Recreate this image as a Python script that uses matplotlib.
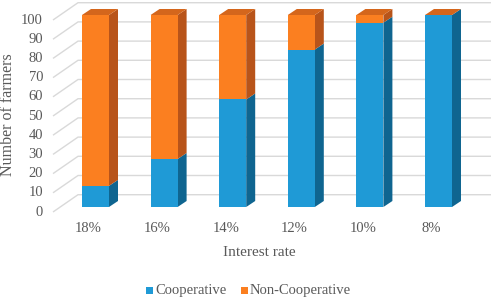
import matplotlib.pyplot as plt
from matplotlib.patches import Polygon, Rectangle

rates = ['18%', '16%', '14%', '12%', '10%', '8%']
cooperative = [11, 25, 56, 82, 96, 100]
non_cooperative = [89, 75, 44, 18, 4, 0]
y_ticks = list(range(0, 101, 10))

blue = '#1f9ad6'
blue_side = '#0f6590'
orange = '#fb7f20'
orange_side = '#b8541a'
orange_top = '#d4661c'
grid_color = '#d9d9d9'
text_color = '#595959'
font = 'Liberation Serif'

# pixel scale of the fake 3d chart
px_x = 68.6   # pixels per category
px_y = 1.92   # pixels per farmer
W, H = 491, 298
x0_px, y0_px = 95.5, 207

fig = plt.figure(figsize=(W / 100, H / 100), dpi=100)
ax = fig.add_axes([0, 0, 1, 1])
ax.set_xlim(-x0_px / px_x, (W - x0_px) / px_x)
ax.set_ylim(-(H - y0_px) / px_y, y0_px / px_y)
ax.axis('off')

bw = 27 / px_x          # bar width
dx, dy = 9 / px_x, 6 / px_y      # bar depth
wall_x = -17.5 / px_x   # back wall left edge
wall_dy = 12.3 / px_y   # back wall lift
front_x = -42.5 / px_x
front_dy = -5 / px_y

# back wall gridlines + floor diagonals
for t in y_ticks:
    ax.plot([front_x, wall_x, ax.get_xlim()[1]], [t + front_dy, t + wall_dy, t + wall_dy],
            color=grid_color, lw=1, zorder=1, solid_capstyle='butt')
    ax.text(front_x - 10 / px_x, t + front_dy, str(t), ha='right', va='center',
            fontsize=10.5, family=font, color=text_color)


def box(x, y0, y1, front, side, top=None):
    xl, xr = x - bw / 2, x + bw / 2
    ax.add_patch(Polygon([(xr, y0), (xr + dx, y0 + dy), (xr + dx, y1 + dy), (xr, y1)],
                         closed=True, facecolor=side, edgecolor='none', zorder=3))
    ax.add_patch(Rectangle((xl, y0), bw, y1 - y0, facecolor=front, edgecolor='none', zorder=4))
    if top is not None:
        ax.add_patch(Polygon([(xl, y1), (xl + dx, y1 + dy), (xr + dx, y1 + dy), (xr, y1)],
                             closed=True, facecolor=top, edgecolor='none', zorder=4))


for i, (c, n) in enumerate(zip(cooperative, non_cooperative)):
    box(i, 0, c, blue, blue_side)
    box(i, c, c + n, orange, orange_side, orange_top)
    ax.text(i - 7 / px_x, -21 / px_y, rates[i], ha='center', va='center',
            fontsize=10.5, family=font, color=text_color)

ax.text(2.39, -45 / px_y, 'Interest rate', ha='center', va='center',
        fontsize=11, family=font, color=text_color)
ax.text(-87 / px_x, 48, 'Number of farmers', ha='center', va='center', rotation=90,
        fontsize=11.5, family=font, color=text_color)

# legend at the bottom edge, kept just inside so the descenders show
leg_base = -(H - 4 - y0_px) / px_y
for lx, label, col in [(145.5, 'Cooperative', blue), (240.5, 'Non-Cooperative', orange)]:
    x = (lx - x0_px) / px_x
    ax.add_patch(Rectangle((x, leg_base), 7 / px_x, 7 / px_y, facecolor=col,
                           edgecolor='none'))
    ax.text(x + 9.5 / px_x, leg_base, label, ha='left', va='baseline',
            fontsize=10.5, family=font, color=text_color)

fig.savefig('out.png', dpi=100)
